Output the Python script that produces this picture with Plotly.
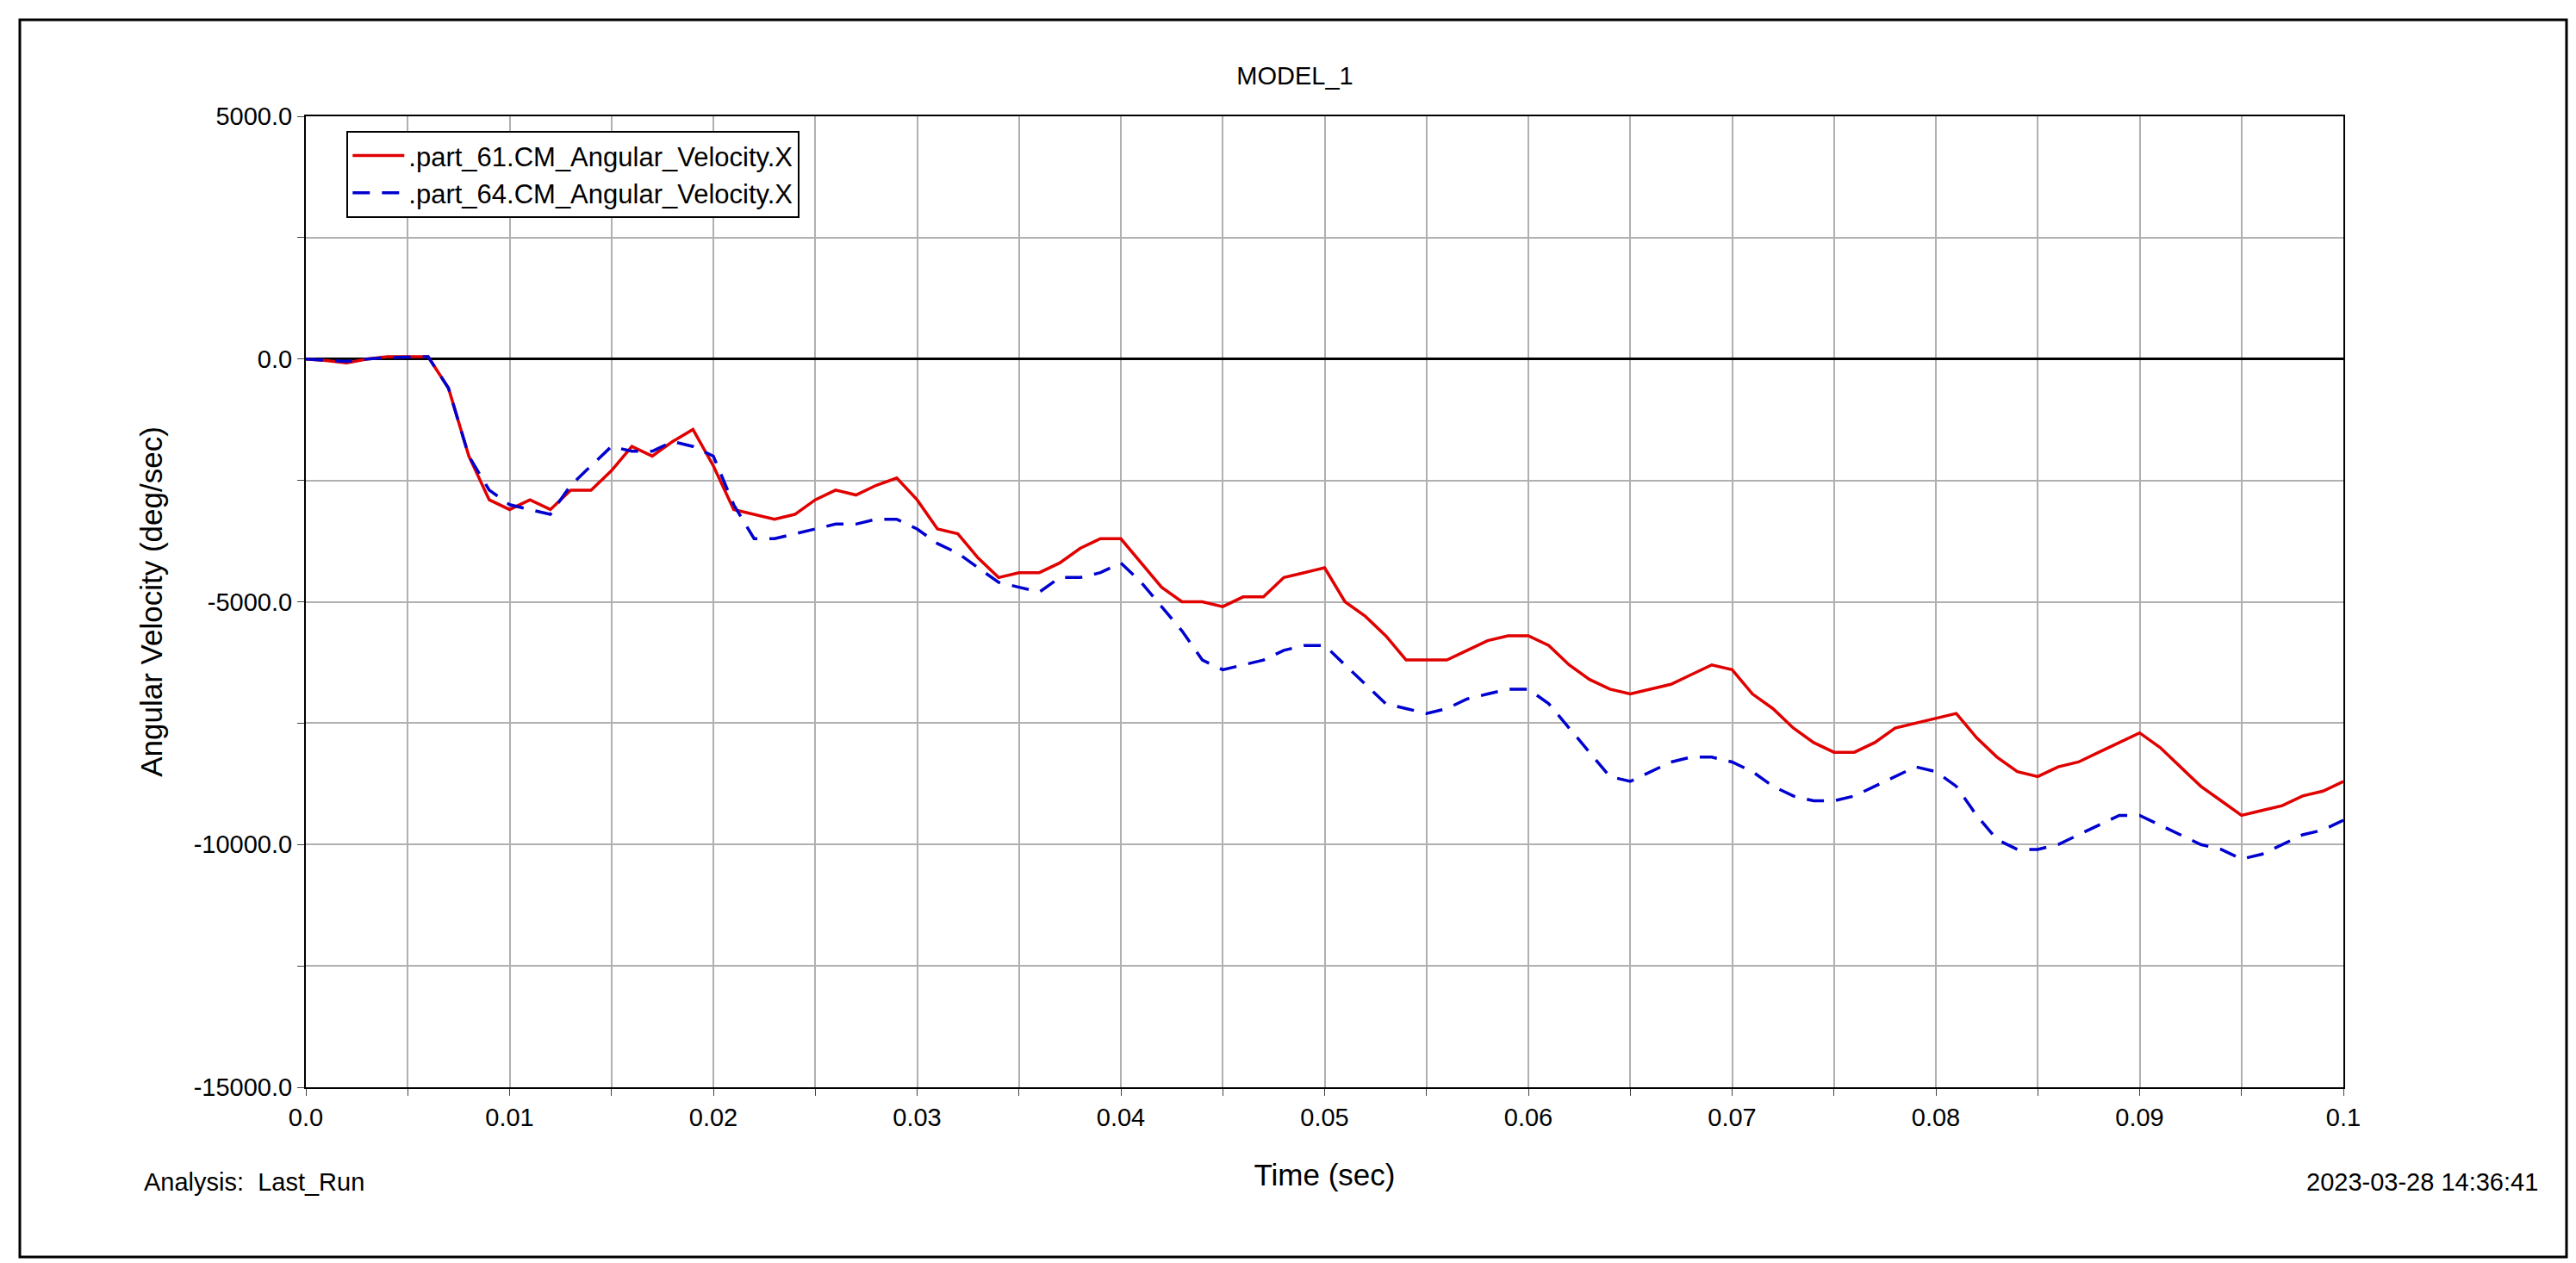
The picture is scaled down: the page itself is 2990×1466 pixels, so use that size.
import plotly.graph_objects as go

t_ms = list(range(0, 101))
red = [0, -30, -80, 0, 50, 50, 50, -600, -2000, -2900, -3100, -2900, -3100, -2700, -2700, -2300, -1800, -2000, -1700, -1450, -2200,
       -3100, -3200, -3300, -3200, -2900, -2700, -2800, -2600, -2450, -2900, -3500, -3600, -4100, -4500, -4400, -4400, -4200, -3900, -3700,
       -3700, -4200, -4700, -5000, -5000, -5100, -4900, -4900, -4500, -4400, -4300, -5000, -5300, -5700, -6200, -6200, -6200, -6000, -5800,
       -5700, -5700, -5900, -6300, -6600, -6800, -6900, -6800, -6700, -6500, -6300, -6400, -6900, -7200, -7600, -7900, -8100, -8100, -7900,
       -7600, -7500, -7400, -7300, -7800, -8200, -8500, -8600, -8400, -8300, -8100, -7900, -7700, -8000, -8400, -8800, -9100, -9400, -9300,
       -9200, -9000, -8900, -8700]
blue = [0, -20, -50, 0, 30, 40, 50, -600, -2000, -2700, -3000, -3100, -3200, -2600, -2200, -1800, -1900, -1900, -1700, -1800, -2000,
        -3000, -3700, -3700, -3600, -3500, -3400, -3400, -3300, -3300, -3500, -3800, -4000, -4300, -4600, -4700, -4800, -4500, -4500, -4400,
        -4200, -4600, -5100, -5600, -6200, -6400, -6300, -6200, -6000, -5900, -5900, -6300, -6700, -7100, -7200, -7300, -7200, -7000, -6900,
        -6800, -6800, -7100, -7600, -8100, -8600, -8700, -8500, -8300, -8200, -8200, -8300, -8500, -8800, -9000, -9100, -9100, -9000, -8800,
        -8600, -8400, -8500, -8800, -9400, -9900, -10100, -10100, -10000, -9800, -9600, -9400, -9400, -9600, -9800, -10000, -10100, -10300,
        -10200, -10000, -9800, -9700, -9500]
x_ticks = [0.0, 0.01, 0.02, 0.03, 0.04, 0.05, 0.06, 0.07, 0.08, 0.09, 0.1]
x_labels = ["0.0", "0.01", "0.02", "0.03", "0.04", "0.05", "0.06", "0.07", "0.08", "0.09", "0.1"]
y_ticks = [5000, 0, -5000, -10000, -15000]
y_labels = ["5000.0", "0.0", "-5000.0", "-10000.0", "-15000.0"]

t = [v / 1000 for v in t_ms]
F = "Liberation Sans, Arial, sans-serif"

fig = go.Figure()
fig.add_trace(go.Scatter(x=t, y=red, mode="lines", name=".part_61.CM_Angular_Velocity.X",
                         line=dict(color="#e00000", width=3.5)))
fig.add_trace(go.Scatter(x=t, y=blue, mode="lines", name=".part_64.CM_Angular_Velocity.X",
                         line=dict(color="#0000d0", width=3.5, dash="20px,14px")))

fig.update_layout(
    width=2990, height=1466, paper_bgcolor="white", plot_bgcolor="white",
    margin=dict(l=347, r=278, t=127, b=212),
    font=dict(family=F, size=29, color="black"),
    title=dict(text="MODEL_1", x=0.5, xanchor="center", y=1 - 80 / 1466, yanchor="middle", font=dict(size=29)),
    showlegend=True,
    legend=dict(x=0.02, y=0.985, xanchor="left", yanchor="top", bordercolor="black", borderwidth=2,
                bgcolor="white", font=dict(size=31), itemwidth=60, tracegroupgap=0),
    xaxis=dict(range=[0, 0.1], tickvals=x_ticks, ticktext=x_labels, showgrid=True, gridcolor="#b0b0b0", gridwidth=2,
               minor=dict(dtick=0.005, showgrid=True, gridcolor="#b0b0b0", gridwidth=2, ticks="outside", ticklen=8),
               ticks="outside", ticklen=8, showline=True, linecolor="black", linewidth=2, mirror=True, zeroline=False,
               title=dict(text="Time (sec)", standoff=40)),
    yaxis=dict(range=[-15000, 5000], tickvals=y_ticks, ticktext=y_labels, showgrid=True, gridcolor="#b0b0b0", gridwidth=2,
               minor=dict(dtick=2500, showgrid=True, gridcolor="#b0b0b0", gridwidth=2, ticks="outside", ticklen=8),
               ticks="outside", ticklen=8, showline=True, linecolor="black", linewidth=2, mirror=True,
               zeroline=True, zerolinecolor="black", zerolinewidth=2.5,
               title=dict(text="Angular Velocity (deg/sec)", standoff=25)),
    shapes=[dict(type="rect", xref="paper", yref="paper",
                 x0=-332 / 2365, x1=1 + 259 / 2365, y0=-197 / 1127, y1=1 + 112 / 1127,
                 line=dict(color="black", width=3))],
    annotations=[
        dict(text="Analysis:  Last_Run", xref="paper", yref="paper", x=-190 / 2365, y=-110 / 1127,
             xanchor="left", yanchor="middle", showarrow=False),
        dict(text="2023-03-28 14:36:41", xref="paper", yref="paper", x=1 + 228 / 2365, y=-110 / 1127,
             xanchor="right", yanchor="middle", showarrow=False),
    ],
)
fig.write_html("out.html")
